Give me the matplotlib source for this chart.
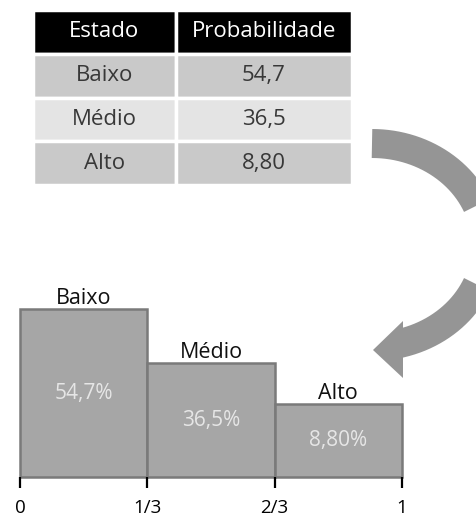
import numpy as np
import matplotlib.pyplot as plt
from matplotlib.patches import Polygon

# dados da tabela / histograma
estados = ['Baixo', 'Médio', 'Alto']
prob_txt = ['54,7', '36,5', '8,80']
prob = [54.7, 36.5, 8.80]
edges = [0, 1/3, 2/3, 1]
tick_labels = ['0', '1/3', '2/3', '1']
header = ['Estado', 'Probabilidade']

plt.rcParams['font.family'] = ['Open Sans', 'DejaVu Sans']

W, H = 477, 518
fig = plt.figure(figsize=(W / 100, H / 100), dpi=100)


def box(x0, y0, x1, y1):
    # caixa em pixels (origem no topo) -> fração da figura
    return [x0 / W, 1 - y1 / H, (x1 - x0) / W, (y1 - y0) / H]


# ---- seta curva (por baixo de tudo, coordenadas em pixels) ----
ov = fig.add_axes([0, 0, 1, 1], zorder=-1)
ov.set_xlim(0, W)
ov.set_ylim(H, 0)
ov.axis('off')

arrow_col = '#959595'
th = np.deg2rad(np.linspace(90, -76, 200))
ov.plot(372 + 114 * np.cos(th), 245 - 101.5 * np.sin(th), color=arrow_col,
        lw=29 * 72 / 100, solid_capstyle='butt', solid_joinstyle='round')
ov.add_patch(Polygon([[403, 321], [403, 378], [373, 350]], closed=True,
                     facecolor=arrow_col, edgecolor='none'))

# ---- tabela ----
tax = fig.add_axes(box(33, 10, 352, 185))
tax.axis('off')
row_cols = ['#c9c9c9', '#e4e4e4', '#c9c9c9']
tbl = tax.table(cellText=[[e, p] for e, p in zip(estados, prob_txt)],
                colLabels=header, cellLoc='center', colWidths=[143, 176],
                cellColours=[[c, c] for c in row_cols], bbox=[0, 0, 1, 1])
tbl.auto_set_font_size(False)
for (r, c), cell in tbl.get_celld().items():
    cell.set_edgecolor('white')
    cell.set_linewidth(2.5)
    cell.get_text().set_fontsize(16)
    if r == 0:
        cell.set_facecolor('black')
        cell.get_text().set_color('white')
    else:
        cell.get_text().set_color('#383838')

# ---- histograma (escala quadrática, base abaixo de zero) ----
def fwd(v):
    v = np.asarray(v, dtype=float)
    return np.sign(v) * v ** 2


def inv(u):
    u = np.asarray(u, dtype=float)
    return np.sign(u) * np.sqrt(np.abs(u))


floor = -46.6

ax = fig.add_axes(box(20, 309, 402, 477))
ax.patch.set_visible(False)
ax.set_yscale('function', functions=(fwd, inv))
ax.set_ylim(floor, max(prob))
ax.set_xlim(0, 1)

widths = np.diff(edges)
ax.bar(edges[:-1], [p - floor for p in prob], width=widths, bottom=floor,
       align='edge', color='#a6a6a6', edgecolor='#7a7a7a', linewidth=1.8,
       clip_on=False)

for x0, w, p, txt, nome in zip(edges[:-1], widths, prob, prob_txt, estados):
    xc = x0 + w / 2
    ymid = inv((fwd(p) + fwd(floor)) / 2)
    ax.text(xc, ymid, txt + '%', ha='center', va='center',
            color='#e6e6e6', fontsize=15)
    ax.annotate(nome, (xc, p), xytext=(0, 0), textcoords='offset points',
                ha='center', va='bottom', fontsize=15.5, color='#111111',
                annotation_clip=False)

ax.set_xticks(edges, tick_labels)
ax.set_yticks([])
ax.tick_params(axis='x', direction='out', length=8, width=1.6,
               pad=8, labelsize=13.5)
for s in ax.spines.values():
    s.set_visible(False)

fig.savefig('out.png', dpi=100)
